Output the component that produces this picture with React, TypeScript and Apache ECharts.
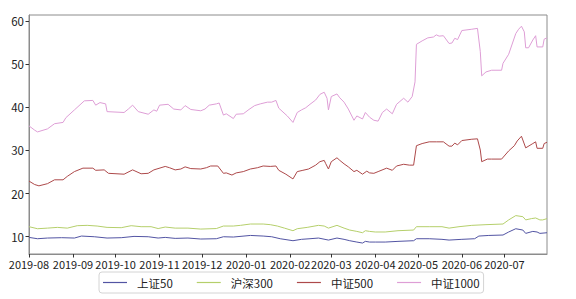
import React, { useEffect, useRef } from "react";
import * as echarts from "echarts";

const seriesNames = ["上证50", "沪深300", "中证500", "中证1000"];
const seriesColors = ["#5254a3", "#b5cf6b", "#ad494a", "#de9ed6"];

const xTickLabels = [
  "2019-08", "2019-09", "2019-10", "2019-11", "2019-12", "2020-01",
  "2020-02", "2020-03", "2020-04", "2020-05", "2020-06", "2020-07",
];
const yTickValues = [10, 20, 30, 40, 50, 60];
const xStart = "2019-08-01";
const xEnd = "2020-07-31";
const yMin = 6.0;
const yMax = 61.4;

const sz50: [string, number][] = [
  ["2019-08-01", 9.85], ["2019-08-07", 9.54], ["2019-08-14", 9.7], ["2019-08-24", 9.78],
  ["2019-09-02", 9.7], ["2019-09-07", 10.16], ["2019-09-16", 10.0], ["2019-09-25", 9.7],
  ["2019-10-05", 9.78], ["2019-10-14", 10.08], ["2019-10-24", 10.0], ["2019-10-31", 9.7],
  ["2019-11-05", 9.85], ["2019-11-12", 9.62], ["2019-11-21", 9.7], ["2019-11-30", 9.47],
  ["2019-12-11", 9.54], ["2019-12-16", 10.0], ["2019-12-23", 9.93], ["2020-01-04", 10.3],
  ["2020-01-13", 10.16], ["2020-01-19", 10.0], ["2020-01-25", 9.54], ["2020-02-03", 9.08],
  ["2020-02-09", 9.4], ["2020-02-15", 9.54], ["2020-02-21", 9.7], ["2020-02-28", 9.23],
  ["2020-03-05", 9.7], ["2020-03-10", 9.4], ["2020-03-14", 9.08], ["2020-03-19", 8.77],
  ["2020-03-23", 8.54], ["2020-03-25", 8.93], ["2020-03-28", 8.77], ["2020-04-01", 8.77],
  ["2020-04-08", 8.77], ["2020-04-17", 8.93], ["2020-04-28", 9.08], ["2020-04-30", 9.54],
  ["2020-05-09", 9.54], ["2020-05-18", 9.4], ["2020-05-23", 9.23], ["2020-06-01", 9.4],
  ["2020-06-10", 9.54], ["2020-06-13", 10.16], ["2020-06-20", 10.3], ["2020-06-30", 10.4],
  ["2020-07-04", 11.1], ["2020-07-09", 11.86], ["2020-07-14", 11.55], ["2020-07-16", 10.78],
  ["2020-07-21", 11.24], ["2020-07-24", 11.1], ["2020-07-26", 10.78], ["2020-07-31", 10.93],
];

const hs300: [string, number][] = [
  ["2019-08-01", 12.33], ["2019-08-07", 11.86], ["2019-08-14", 12.0], ["2019-08-21", 12.17],
  ["2019-08-28", 12.0], ["2019-09-04", 12.56], ["2019-09-11", 12.64], ["2019-09-18", 12.48],
  ["2019-09-25", 12.17], ["2019-10-05", 12.1], ["2019-10-12", 12.56], ["2019-10-19", 12.33],
  ["2019-10-26", 12.33], ["2019-10-31", 11.9], ["2019-11-05", 12.25], ["2019-11-12", 12.0],
  ["2019-11-21", 12.0], ["2019-11-30", 11.78], ["2019-12-11", 11.9], ["2019-12-16", 12.48],
  ["2019-12-23", 12.48], ["2019-12-28", 12.64], ["2020-01-04", 12.95], ["2020-01-13", 12.95],
  ["2020-01-18", 12.8], ["2020-01-23", 12.48], ["2020-01-28", 12.0], ["2020-02-03", 11.4],
  ["2020-02-06", 11.86], ["2020-02-13", 12.17], ["2020-02-21", 12.64], ["2020-02-25", 12.48],
  ["2020-02-28", 12.0], ["2020-03-05", 12.64], ["2020-03-10", 12.0], ["2020-03-14", 11.55],
  ["2020-03-19", 11.24], ["2020-03-23", 10.93], ["2020-03-25", 11.4], ["2020-03-28", 11.24],
  ["2020-04-01", 11.1], ["2020-04-08", 11.1], ["2020-04-17", 11.4], ["2020-04-28", 11.55],
  ["2020-04-30", 12.33], ["2020-05-09", 12.33], ["2020-05-18", 12.33], ["2020-05-23", 12.0],
  ["2020-05-30", 12.33], ["2020-06-08", 12.64], ["2020-06-18", 12.8], ["2020-06-30", 12.95],
  ["2020-07-04", 13.9], ["2020-07-09", 14.9], ["2020-07-14", 14.65], ["2020-07-16", 13.9],
  ["2020-07-20", 14.2], ["2020-07-23", 14.35], ["2020-07-26", 13.9], ["2020-07-28", 13.9],
  ["2020-07-31", 14.2],
];

const zz500: [string, number][] = [
  ["2019-08-01", 22.9], ["2019-08-05", 22.1], ["2019-08-08", 21.8], ["2019-08-14", 22.3],
  ["2019-08-19", 23.2], ["2019-08-25", 23.2], ["2019-08-28", 24.0], ["2019-09-02", 25.1],
  ["2019-09-08", 25.9], ["2019-09-15", 25.9], ["2019-09-17", 25.4], ["2019-09-23", 25.5],
  ["2019-09-26", 24.7], ["2019-10-07", 24.5], ["2019-10-13", 25.5], ["2019-10-19", 24.6],
  ["2019-10-24", 24.7], ["2019-10-28", 25.5], ["2019-11-05", 26.3], ["2019-11-08", 26.0],
  ["2019-11-12", 25.5], ["2019-11-16", 25.7], ["2019-11-19", 26.2], ["2019-11-23", 25.8],
  ["2019-11-30", 25.7], ["2019-12-04", 26.0], ["2019-12-07", 26.4], ["2019-12-12", 26.4],
  ["2019-12-16", 24.7], ["2019-12-18", 24.8], ["2019-12-22", 24.3], ["2019-12-25", 24.8],
  ["2019-12-30", 25.1], ["2020-01-04", 25.7], ["2020-01-09", 26.0], ["2020-01-13", 26.4],
  ["2020-01-18", 26.3], ["2020-01-22", 26.4], ["2020-01-24", 25.4], ["2020-01-29", 24.5],
  ["2020-02-03", 23.4], ["2020-02-06", 25.1], ["2020-02-10", 25.4], ["2020-02-14", 25.7],
  ["2020-02-19", 26.6], ["2020-02-22", 27.4], ["2020-02-25", 27.7], ["2020-02-26", 27.0],
  ["2020-02-28", 25.7], ["2020-03-01", 27.4], ["2020-03-05", 28.3], ["2020-03-07", 27.7],
  ["2020-03-10", 26.9], ["2020-03-13", 26.2], ["2020-03-17", 25.1], ["2020-03-19", 25.4],
  ["2020-03-23", 24.5], ["2020-03-26", 25.2], ["2020-03-28", 24.8], ["2020-03-31", 24.7],
  ["2020-04-03", 25.1], ["2020-04-09", 25.9], ["2020-04-13", 25.4], ["2020-04-16", 26.4],
  ["2020-04-21", 26.8], ["2020-04-25", 26.6], ["2020-04-28", 26.6], ["2020-04-30", 31.1],
  ["2020-05-04", 31.6], ["2020-05-09", 32.0], ["2020-05-14", 32.0], ["2020-05-19", 32.0],
  ["2020-05-23", 31.0], ["2020-05-25", 31.0], ["2020-05-27", 31.7], ["2020-05-29", 31.3],
  ["2020-06-01", 32.3], ["2020-06-08", 32.6], ["2020-06-12", 32.7], ["2020-06-14", 30.1],
  ["2020-06-15", 27.4], ["2020-06-19", 28.0], ["2020-06-22", 28.0], ["2020-06-29", 28.0],
  ["2020-07-04", 29.9], ["2020-07-08", 31.1], ["2020-07-10", 32.2], ["2020-07-13", 33.3],
  ["2020-07-16", 30.6], ["2020-07-21", 31.6], ["2020-07-23", 32.0], ["2020-07-24", 30.5],
  ["2020-07-28", 30.5], ["2020-07-29", 31.6], ["2020-07-31", 31.9],
];

const zz1000: [string, number][] = [
  ["2019-08-01", 35.7], ["2019-08-05", 34.7], ["2019-08-07", 34.3], ["2019-08-14", 35.0],
  ["2019-08-19", 36.2], ["2019-08-25", 36.5], ["2019-08-27", 37.6], ["2019-09-02", 39.4],
  ["2019-09-09", 41.5], ["2019-09-15", 41.6], ["2019-09-17", 40.5], ["2019-09-20", 41.1],
  ["2019-09-24", 40.8], ["2019-09-25", 39.0], ["2019-10-07", 38.8], ["2019-10-10", 39.6],
  ["2019-10-13", 40.5], ["2019-10-17", 39.0], ["2019-10-24", 38.4], ["2019-10-28", 39.4],
  ["2019-10-30", 39.1], ["2019-11-01", 40.5], ["2019-11-07", 40.7], ["2019-11-11", 39.6],
  ["2019-11-16", 39.4], ["2019-11-19", 40.4], ["2019-11-23", 39.5], ["2019-11-30", 39.2],
  ["2019-12-03", 39.6], ["2019-12-06", 40.5], ["2019-12-11", 40.8], ["2019-12-13", 41.0],
  ["2019-12-16", 38.2], ["2019-12-18", 38.5], ["2019-12-23", 37.4], ["2019-12-25", 38.4],
  ["2019-12-30", 38.5], ["2020-01-03", 39.5], ["2020-01-07", 40.4], ["2020-01-11", 40.8],
  ["2020-01-16", 41.2], ["2020-01-19", 41.2], ["2020-01-22", 41.6], ["2020-01-24", 39.8],
  ["2020-01-30", 38.0], ["2020-02-03", 36.5], ["2020-02-06", 38.8], ["2020-02-09", 39.4],
  ["2020-02-12", 39.9], ["2020-02-15", 40.7], ["2020-02-19", 41.7], ["2020-02-22", 43.0],
  ["2020-02-25", 43.5], ["2020-02-27", 42.1], ["2020-02-28", 39.4], ["2020-03-01", 42.5],
  ["2020-03-05", 43.1], ["2020-03-07", 42.2], ["2020-03-10", 41.2], ["2020-03-13", 39.6],
  ["2020-03-17", 37.0], ["2020-03-19", 38.0], ["2020-03-23", 37.3], ["2020-03-25", 38.8],
  ["2020-03-28", 37.7], ["2020-03-31", 37.0], ["2020-04-03", 36.8], ["2020-04-06", 38.8],
  ["2020-04-09", 39.6], ["2020-04-13", 38.5], ["2020-04-16", 40.7], ["2020-04-21", 42.1],
  ["2020-04-24", 41.2], ["2020-04-27", 42.5], ["2020-04-29", 45.9], ["2020-04-30", 54.6],
  ["2020-05-04", 55.4], ["2020-05-08", 56.1], ["2020-05-12", 56.3], ["2020-05-14", 56.8],
  ["2020-05-16", 56.5], ["2020-05-19", 56.6], ["2020-05-23", 54.8], ["2020-05-25", 54.9],
  ["2020-05-27", 56.0], ["2020-05-29", 55.7], ["2020-06-01", 57.8], ["2020-06-08", 58.1],
  ["2020-06-12", 58.3], ["2020-06-14", 52.9], ["2020-06-15", 47.3], ["2020-06-18", 48.2],
  ["2020-06-22", 48.6], ["2020-06-29", 48.6], ["2020-06-30", 50.2], ["2020-07-04", 52.3],
  ["2020-07-09", 57.1], ["2020-07-11", 58.1], ["2020-07-13", 58.8], ["2020-07-15", 57.5],
  ["2020-07-16", 53.8], ["2020-07-18", 53.8], ["2020-07-21", 55.6], ["2020-07-23", 56.6],
  ["2020-07-24", 54.0], ["2020-07-28", 54.0], ["2020-07-29", 55.8], ["2020-07-31", 56.1],
];

const seriesData = [sz50, hs300, zz500, zz1000];

function toTs(s: string): number {
  const [y, m, d] = s.split("-").map(Number);
  return Date.UTC(y, m - 1, d || 1);
}

const FONT = "'Noto Sans CJK SC', 'DejaVu Sans', sans-serif";

export default function App() {
  const ref = useRef<HTMLDivElement>(null);
  useEffect(() => {
    if (!ref.current) return;
    const chart = echarts.init(ref.current, undefined, { renderer: "svg" });
    const xTicks = xTickLabels.map((s) => toTs(s));
    chart.setOption({
      animation: false,
      backgroundColor: "#ffffff",
      textStyle: { fontFamily: FONT },
      grid: {
        left: 29,
        right: 29,
        top: 15,
        bottom: 45,
        show: true,
        borderColor: "#8c8c8c",
        borderWidth: 1,
        backgroundColor: "transparent",
      },
      legend: {
        data: seriesNames,
        left: 99,
        top: 272,
        orient: "horizontal",
        icon: "rect",
        itemWidth: 24,
        itemHeight: 1.2,
        itemGap: 24,
        padding: [4, 4, 4, 4],
        borderColor: "#d4d4d4",
        borderWidth: 1,
        borderRadius: 3,
        textStyle: {
          fontFamily: FONT,
          fontSize: 11.5,
          color: "#222",
          padding: [0, 0, 0, 5],
          lineHeight: 13,
        },
      },
      xAxis: {
        type: "value",
        min: toTs(xStart),
        max: toTs(xEnd),
        axisLine: { show: true, lineStyle: { color: "#8c8c8c", width: 1 } },
        axisTick: {
          show: true,
          length: 3.5,
          lineStyle: { color: "#333", width: 1 },
          customValues: xTicks,
        },
        axisLabel: {
          customValues: xTicks,
          fontFamily: FONT,
          fontSize: 11,
          color: "#222",
          margin: 4,
          hideOverlap: false,
          formatter: (v: number) => {
            const i = xTicks.indexOf(v);
            return i >= 0 ? xTickLabels[i] : "";
          },
        },
        splitLine: { show: false },
      },
      yAxis: {
        type: "value",
        min: yMin,
        max: yMax,
        axisLine: { show: true, lineStyle: { color: "#8c8c8c", width: 1 } },
        axisTick: {
          show: true,
          length: 3.5,
          lineStyle: { color: "#333", width: 1 },
          customValues: yTickValues,
        },
        axisLabel: {
          customValues: yTickValues,
          fontFamily: FONT,
          fontSize: 11.5,
          color: "#222",
          margin: 5,
        },
        splitLine: { show: false },
      },
      series: seriesNames.map((name, i) => ({
        name,
        type: "line",
        data: seriesData[i].map(([d, v]) => [toTs(d), v]),
        symbol: "none",
        showSymbol: false,
        lineStyle: { color: seriesColors[i], width: 1 },
        itemStyle: { color: seriesColors[i] },
        color: seriesColors[i],
      })),
    });
    return () => chart.dispose();
  }, []);
  return (
    <div
      ref={ref}
      style={{ position: "fixed", left: 0, top: 0, width: 576, height: 299 }}
    />
  );
}
